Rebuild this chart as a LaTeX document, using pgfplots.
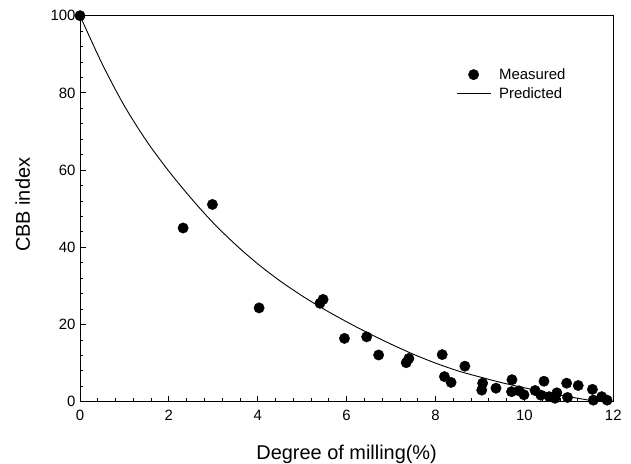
\documentclass[border=0pt]{standalone}
\usepackage{fontspec}
\setmainfont{Liberation Sans}
\usepackage{pgfplots}
\pgfplotsset{compat=1.18}
\pgfplotsset{
  legmark/.style={legend image code/.code={\draw[##1] plot coordinates {(17bp,0bp)};}},
  legline/.style={legend image code/.code={\draw[##1] (0bp,0bp) -- (34bp,0bp);}},
}

\pgfplotstableread{
x y
0 100
2.32 45.0
2.98 51.1
4.03 24.3
5.40 25.5
5.47 26.5
5.95 16.4
6.45 16.8
6.72 12.1
7.34 10.1
7.40 11.2
8.15 12.2
8.20 6.5
8.35 5.0
8.66 9.2
9.06 4.8
9.04 3.0
9.36 3.5
9.72 5.7
9.71 2.6
9.88 2.8
9.99 1.8
10.24 2.9
10.37 1.7
10.44 5.3
10.56 1.3
10.73 2.3
10.69 0.9
10.95 4.8
10.97 1.1
11.21 4.2
11.53 3.2
11.55 0.4
11.74 1.3
11.86 0.4
}\measured

\pgfplotstableread{
x y
0 100
0.5 87.5
1.0 76.6
1.5 67.5
2.0 59.7
2.5 52.7
3.0 46.3
3.5 40.7
4.0 35.7
4.5 31.3
5.0 27.4
5.5 23.9
6.0 20.7
6.5 17.7
7.0 14.9
7.5 12.3
8.0 10.0
8.5 8.0
9.0 6.4
9.5 4.9
10.0 3.6
10.5 2.4
11.0 1.3
11.5 0.3
11.65 0
}\predicted

\begin{document}
\begin{tikzpicture}
\begin{axis}[
  scale only axis, width=533.3bp, height=386bp,
  xmin=0, xmax=12, ymin=0, ymax=100,
  xtick={0,2,...,12}, ytick={0,20,...,100},
  minor tick num=4,
  tick align=inside, tick pos=left,
  major tick length=6bp, minor tick length=3.5bp,
  axis line style={line width=0.9bp},
  every tick/.style={black, line width=0.8bp},
  clip=false,
  /pgf/number format/assume math mode=true,
  tick label style={font=\fontsize{15}{15}\selectfont},
  xticklabel style={yshift=-5bp},
  yticklabel style={xshift=-1bp},
  xlabel={Degree of milling(\%)},
  ylabel={CBB index},
  label style={font=\fontsize{20}{20}\selectfont},
  xlabel style={anchor=base, at={(axis description cs:0.5,0)}, yshift=-57.6bp},
  ylabel style={anchor=base, at={(axis description cs:-0.0938,0.51)}},
  legend style={draw=none, fill=none, at={(axis cs:8.46,86.9)}, anchor=north west,
    font=\fontsize{15}{15}\selectfont, row sep=3bp, inner sep=0pt,
    /tikz/every odd column/.style={column sep=6bp}},
  legend cell align=left,
]
\addplot[only marks, mark=*, mark size=5.2bp, black, legmark] table {\measured};
\addplot[black, line width=0.9bp, smooth, no marks, legline] table {\predicted};
\legend{Measured, Predicted}
\coordinate (bl) at (rel axis cs:0,0);
\coordinate (tr) at (rel axis cs:1,1);
\end{axis}
\pgfresetboundingbox
\path[use as bounding box] ([shift={(-80bp,-62.3bp)}]bl) rectangle ([shift={(17.7bp,15.7bp)}]tr);
\end{tikzpicture}
\end{document}
